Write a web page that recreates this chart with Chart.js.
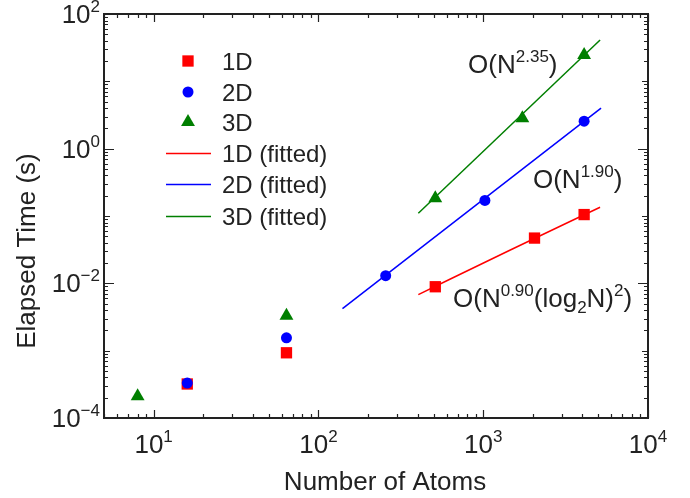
<!DOCTYPE html>
<html>
<head>
<meta charset="utf-8">
<script src="https://cdn.jsdelivr.net/npm/chart.js@4.4.0/dist/chart.umd.min.js"></script>
<style>
  body { margin: 0; background: #fff; }
  #wrap { width: 690px; height: 498px; }
</style>
</head>
<body>
<div id="wrap"><canvas id="chart" width="690" height="498"></canvas></div>
<script>
// measured points
var atoms1D = [16, 64, 512, 2048, 4096];
var time1D = [3.2e-4, 9.3e-4, 0.0089, 0.047, 0.105];
var atoms2D = [16, 64, 256, 1024, 4096];
var time2D = [3.3e-4, 1.55e-3, 0.013, 0.17, 2.56];
var atoms3D = [8, 64, 512, 1728, 4096];
var time3D = [2.1e-4, 3.3e-3, 0.183, 2.83, 24.6];

// fitted lines
var fitAtoms1D = [404, 1450, 5120];
var fitTime1D = [0.0068, 0.031, 0.135];
var fitAtoms2D = [140, 5190];
var fitTime2D = [0.0042, 4.0];
var fitAtoms3D = [404, 5120];
var fitTime3D = [0.11, 41];

// tick labels: [value, exponent text]
var xTickLabels = [[10, '1'], [100, '2'], [1000, '3'], [10000, '4']];
var yTickLabels = [[1e-4, '\u22124'], [1e-2, '\u22122'], [1, '0'], [100, '2']];

var FONT = '"Liberation Sans", Arial, Helvetica, sans-serif';
var INK = '#222';

function pts(xs, ys) {
  return xs.map(function(x, i) { return {x: x, y: ys[i]}; });
}

// text pieces: {t, sup, sub}
function richWidth(ctx, parts, size) {
  var w = 0;
  parts.forEach(function(p) {
    ctx.font = ((p.sup || p.sub) ? Math.round(size * 0.65) : size) + 'px ' + FONT;
    w += ctx.measureText(p.t).width;
  });
  return w;
}
function drawRich(ctx, parts, x, y, size) {
  ctx.textAlign = 'left';
  ctx.textBaseline = 'alphabetic';
  parts.forEach(function(p) {
    var s = (p.sup || p.sub) ? Math.round(size * 0.65) : size;
    var dy = p.sup ? -size * 0.42 : (p.sub ? size * 0.22 : 0);
    ctx.font = s + 'px ' + FONT;
    ctx.fillText(p.t, x, y + dy);
    x += ctx.measureText(p.t).width;
  });
}

var notes = [
  {x: 810, y: 13.3, parts: [{t: 'O(N'}, {t: '2.35', sup: true}, {t: ')'}]},
  {x: 2005, y: 0.26, parts: [{t: 'O(N'}, {t: '1.90', sup: true}, {t: ')'}]},
  {x: 656, y: 0.00445, parts: [{t: 'O(N'}, {t: '0.90', sup: true}, {t: '(log'}, {t: '2', sub: true}, {t: 'N)'}, {t: '2', sup: true}, {t: ')'}]}
];

var decorations = {
  id: 'decorations',
  afterDraw: function(chart) {
    var ctx = chart.ctx;
    var a = chart.chartArea;
    var xs = chart.scales.x, ys = chart.scales.y;
    ctx.save();
    ctx.strokeStyle = INK;
    ctx.fillStyle = INK;

    // ticks, inward on all four sides
    ctx.lineWidth = 1.2;
    ctx.beginPath();
    for (var e = 0; e <= 4; e++) {
      for (var m = 1; m <= 9; m++) {
        var v = m * Math.pow(10, e);
        if (v < xs.min || v > xs.max) continue;
        var px = Math.round(xs.getPixelForValue(v)) + 0.5;
        var len = m === 1 ? 8 : 4;
        ctx.moveTo(px, a.bottom); ctx.lineTo(px, a.bottom - len);
        ctx.moveTo(px, a.top); ctx.lineTo(px, a.top + len);
      }
    }
    for (var e2 = -4; e2 <= 2; e2++) {
      for (var m2 = 1; m2 <= 9; m2++) {
        var v2 = m2 * Math.pow(10, e2);
        if (v2 < ys.min || v2 > ys.max * 1.0001) continue;
        var py = Math.round(ys.getPixelForValue(v2)) + 0.5;
        var len2 = m2 === 1 ? (e2 % 2 === 0 ? 10 : 6) : 4;
        ctx.moveTo(a.left, py); ctx.lineTo(a.left + len2, py);
        ctx.moveTo(a.right, py); ctx.lineTo(a.right - len2, py);
      }
    }
    ctx.stroke();

    // frame
    ctx.lineWidth = 2;
    ctx.strokeRect(a.left, a.top, a.right - a.left, a.bottom - a.top);

    // tick labels
    var size = 26;
    xTickLabels.forEach(function(t) {
      var parts = [{t: '10'}, {t: t[1], sup: true}];
      var w = richWidth(ctx, parts, size);
      drawRich(ctx, parts, xs.getPixelForValue(t[0]) - w / 2, a.bottom + 35, size);
    });
    yTickLabels.forEach(function(t) {
      var parts = [{t: '10'}, {t: t[1], sup: true}];
      var w = richWidth(ctx, parts, size);
      drawRich(ctx, parts, a.left - 4 - w, ys.getPixelForValue(t[0]) + 9, size);
    });

    // axis titles
    ctx.font = '26px ' + FONT;
    ctx.textAlign = 'center';
    ctx.textBaseline = 'alphabetic';
    ctx.fillText('Number of Atoms', 385, 490);
    ctx.save();
    ctx.translate(35, 251);
    ctx.rotate(-Math.PI / 2);
    ctx.fillText('Elapsed Time (s)', 0, 0);
    ctx.restore();

    // annotations
    notes.forEach(function(n) {
      drawRich(ctx, n.parts, xs.getPixelForValue(n.x), ys.getPixelForValue(n.y), 26);
    });

    // legend
    var rows = [61, 92, 122, 153, 184, 216];
    chart.data.datasets.forEach(function(ds, i) {
      var ry = rows[i];
      if (ds.showLine) {
        ctx.strokeStyle = ds.borderColor;
        ctx.lineWidth = ds.borderWidth;
        ctx.beginPath();
        ctx.moveTo(166, ry + 0.5); ctx.lineTo(211, ry + 0.5);
        ctx.stroke();
      } else {
        ctx.fillStyle = ds.backgroundColor;
        ctx.strokeStyle = ds.borderColor;
        ctx.lineWidth = ds.borderWidth;
        Chart.helpers.drawPoint(ctx, {pointStyle: ds.pointStyle, radius: ds.pointRadius, rotation: 0, borderWidth: ds.borderWidth}, 188, ry);
      }
      ctx.fillStyle = INK;
      ctx.font = '24px ' + FONT;
      ctx.textAlign = 'left';
      ctx.textBaseline = 'alphabetic';
      ctx.fillText(ds.label, 222, ry + 9);
    });
    ctx.restore();
  }
};

var ctx = document.getElementById('chart').getContext('2d');
var chart = new Chart(ctx, {
  type: 'scatter',
  data: {
    datasets: [
      {label: '1D', data: pts(atoms1D, time1D), order: 3, pointStyle: 'rect', pointRadius: 8, backgroundColor: '#ff0000', borderColor: '#ff0000', borderWidth: 0, showLine: false},
      {label: '2D', data: pts(atoms2D, time2D), order: 1, pointStyle: 'circle', pointRadius: 5.5, backgroundColor: '#0000ff', borderColor: '#0000ff', borderWidth: 0, showLine: false},
      {label: '3D', data: pts(atoms3D, time3D), order: 2, pointStyle: 'triangle', pointRadius: 8, backgroundColor: '#007f00', borderColor: '#007f00', borderWidth: 0, showLine: false},
      {label: '1D (fitted)', data: pts(fitAtoms1D, fitTime1D), order: 6, showLine: true, pointRadius: 0, borderColor: '#ff0000', borderWidth: 1.5, cubicInterpolationMode: 'monotone', tension: 0.3},
      {label: '2D (fitted)', data: pts(fitAtoms2D, fitTime2D), order: 6, showLine: true, pointRadius: 0, borderColor: '#0000ff', borderWidth: 1.5},
      {label: '3D (fitted)', data: pts(fitAtoms3D, fitTime3D), order: 6, showLine: true, pointRadius: 0, borderColor: '#007f00', borderWidth: 1.5}
    ]
  },
  options: {
    responsive: false,
    animation: false,
    layout: { padding: { left: 104, top: 14, right: 42, bottom: 80 } },
    scales: {
      x: { type: 'logarithmic', min: 5, max: 10000, display: false },
      y: { type: 'logarithmic', min: 1e-4, max: 100, display: false }
    },
    plugins: {
      legend: { display: false },
      tooltip: { enabled: false }
    }
  },
  plugins: [decorations]
});
</script>
</body>
</html>
